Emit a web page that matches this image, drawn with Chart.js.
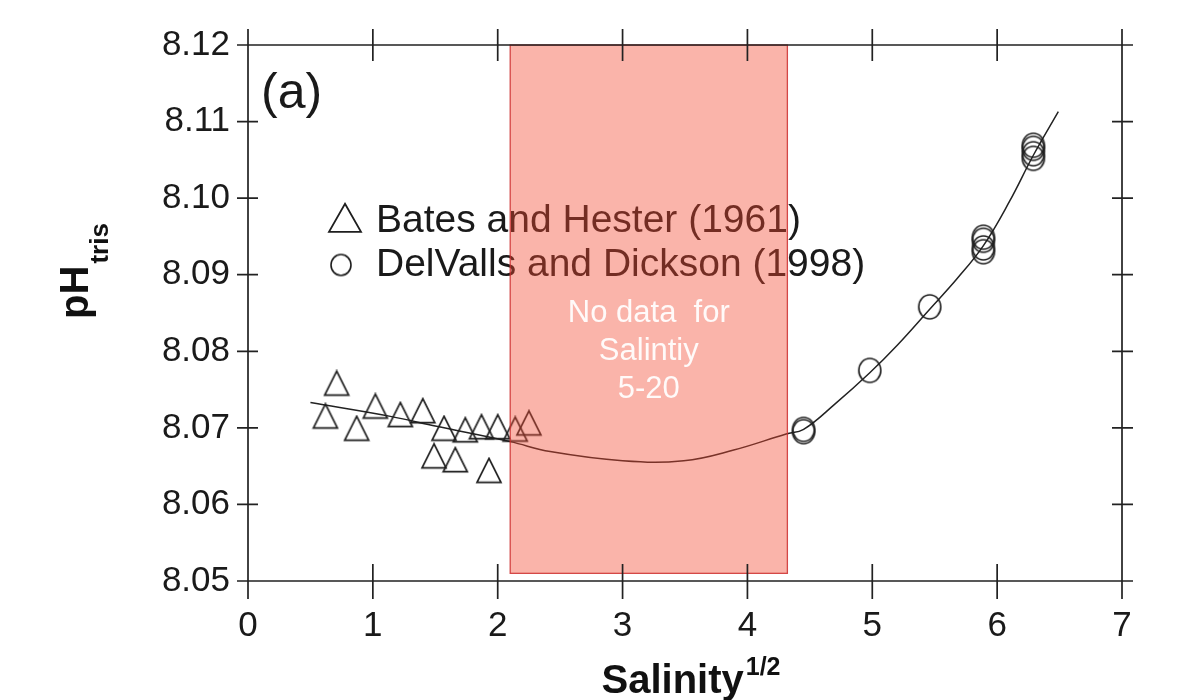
<!DOCTYPE html>
<html>
<head>
<meta charset="utf-8">
<title>pH tris vs salinity</title>
<script src="https://cdn.jsdelivr.net/npm/chart.js@4.4.1/dist/chart.umd.min.js"></script>
<style>
  html, body { margin: 0; padding: 0; background: #fff; }
  #wrap { width: 1203px; height: 700px; position: relative; }
</style>
</head>
<body>
<div id="wrap"><canvas id="chartCanvas" width="1203" height="700"></canvas></div>
<script>
// Bates and Hester (1961)
const batesX = [0.62, 0.71, 0.87, 1.02, 1.22, 1.40, 1.49, 1.57, 1.66, 1.74, 1.87, 1.93, 2.00, 2.14, 2.25];
const batesY = [8.0715, 8.0758, 8.0699, 8.0728, 8.0717, 8.0722, 8.0663, 8.0699, 8.0658, 8.0697, 8.0701, 8.0644, 8.0701, 8.0698, 8.0706];

// DelValls and Dickson (1998)
const delvX = [4.45, 4.45, 4.98, 5.46, 5.89, 5.89, 5.89, 5.89, 6.29, 6.29, 6.29, 6.29];
const delvY = [8.0698, 8.0695, 8.0775, 8.0858, 8.0949, 8.0945, 8.0935, 8.0930, 8.1069, 8.1065, 8.1058, 8.1052];

// fitted curve
const fitX = [0.50, 1.14, 1.51, 2.10, 2.42, 3.00, 3.49, 3.89, 4.31, 4.45, 4.70, 4.98, 5.20, 5.46, 5.68, 5.89, 6.10, 6.29, 6.49];
const fitY = [8.0733, 8.0715, 8.0702, 8.0682, 8.0669, 8.0657, 8.0657, 8.0671, 8.0692, 8.0698, 8.0731, 8.0772, 8.0808, 8.0855, 8.0895, 8.0938, 8.0996, 8.1056, 8.1113];

// shaded "no data" band
const gapX = [2.10, 4.32];
const gapY = [8.051, 8.12];
const gapText = ['No data  for', 'Salintiy', '5-20'];

const legendLabels = ['Bates and Hester (1961)', 'DelValls and Dickson (1998)'];

const FONT = '"Liberation Sans", Arial, Helvetica, sans-serif';
const INK = '#1e1e1e';

function makeTriangle(w, h, lw) {
  const c = document.createElement('canvas');
  c.width = Math.ceil(w + lw * 2);
  c.height = Math.ceil(h + lw * 2);
  const ctx = c.getContext('2d');
  ctx.strokeStyle = INK;
  ctx.lineWidth = lw;
  ctx.beginPath();
  ctx.moveTo(c.width / 2, lw);
  ctx.lineTo(c.width / 2 + w / 2, lw + h);
  ctx.lineTo(c.width / 2 - w / 2, lw + h);
  ctx.closePath();
  ctx.stroke();
  return c;
}

function makeRing(w, h, lw) {
  const c = document.createElement('canvas');
  c.width = Math.ceil(w + lw * 2);
  c.height = Math.ceil(h + lw * 2);
  const ctx = c.getContext('2d');
  ctx.strokeStyle = INK;
  ctx.lineWidth = lw;
  ctx.beginPath();
  ctx.ellipse(c.width / 2, c.height / 2, w / 2, h / 2, 0, 0, Math.PI * 2);
  ctx.stroke();
  return c;
}

const triMark = makeTriangle(24, 24, 1.7);
const ringMark = makeRing(22, 24, 1.6);
const triLegend = makeTriangle(32, 28, 1.8);
const ringLegend = makeRing(20, 21, 1.6);

const toPts = (xs, ys) => xs.map((x, i) => ({ x: x, y: ys[i] }));

// frame with crossing tick marks on all four sides
const frameTicks = {
  id: 'frameTicks',
  afterDraw(chart) {
    const ctx = chart.ctx;
    const { left, right, top, bottom } = chart.chartArea;
    const xs = chart.scales.x, ys = chart.scales.y;
    ctx.save();
    ctx.strokeStyle = '#222';
    ctx.lineWidth = 1.7;
    ctx.beginPath();
    ctx.rect(left, top, right - left, bottom - top);
    xs.ticks.forEach(t => {
      const px = xs.getPixelForValue(t.value);
      ctx.moveTo(px, bottom - 17); ctx.lineTo(px, bottom + 18);
      ctx.moveTo(px, top - 16); ctx.lineTo(px, top + 16);
    });
    ys.ticks.forEach(t => {
      const py = ys.getPixelForValue(t.value);
      ctx.moveTo(left - 11, py); ctx.lineTo(left + 10, py);
      ctx.moveTo(right - 10, py); ctx.lineTo(right + 11, py);
    });
    ctx.stroke();

    // axis titles
    ctx.fillStyle = '#111';
    ctx.textBaseline = 'alphabetic';
    ctx.font = 'bold 40px ' + FONT;
    const mainW = ctx.measureText('Salinity').width;
    ctx.font = 'bold 25px ' + FONT;
    const supW = ctx.measureText('1/2').width;
    const sx = 691 - (mainW + supW + 2) / 2;
    ctx.font = 'bold 40px ' + FONT;
    ctx.textAlign = 'left';
    ctx.fillText('Salinity', sx, 693);
    ctx.font = 'bold 25px ' + FONT;
    ctx.fillText('1/2', sx + mainW + 2, 675);

    ctx.translate(88, 271);
    ctx.rotate(-Math.PI / 2);
    ctx.font = 'bold 40px ' + FONT;
    const pW = ctx.measureText('pH').width;
    ctx.font = 'bold 26px ' + FONT;
    const tW = ctx.measureText('tris').width;
    const st = -(pW + tW + 2) / 2;
    ctx.font = 'bold 40px ' + FONT;
    ctx.fillText('pH', st, 0);
    ctx.font = 'bold 26px ' + FONT;
    ctx.fillText('tris', st + pW + 2, 20);
    ctx.restore();
  }
};

// legend, panel label and the shaded band on top of the data
const overlay = {
  id: 'overlay',
  afterDatasetsDraw(chart) {
    const ctx = chart.ctx;
    const xs = chart.scales.x, ys = chart.scales.y;
    ctx.save();
    ctx.fillStyle = '#1a1a1a';
    ctx.font = '50px ' + FONT;
    ctx.textAlign = 'left';
    ctx.textBaseline = 'alphabetic';
    ctx.fillText('(a)', 261, 108);

    ctx.drawImage(triLegend, 345 - triLegend.width / 2, 218 - triLegend.height / 2);
    ctx.drawImage(ringLegend, 341 - ringLegend.width / 2, 265 - ringLegend.height / 2);
    ctx.font = '39px ' + FONT;
    ctx.fillText(legendLabels[0], 376, 232);
    ctx.fillText(legendLabels[1], 376, 276);

    const x0 = xs.getPixelForValue(gapX[0]), x1 = xs.getPixelForValue(gapX[1]);
    const y0 = ys.getPixelForValue(gapY[1]), y1 = ys.getPixelForValue(gapY[0]);
    ctx.fillStyle = 'rgba(244, 73, 49, 0.41)';
    ctx.fillRect(x0, y0, x1 - x0, y1 - y0);
    ctx.strokeStyle = 'rgba(205, 45, 45, 0.85)';
    ctx.lineWidth = 1.3;
    ctx.strokeRect(x0, y0, x1 - x0, y1 - y0);

    ctx.fillStyle = 'rgba(255, 255, 255, 0.93)';
    ctx.font = '31px ' + FONT;
    ctx.textAlign = 'center';
    const cx = (x0 + x1) / 2;
    gapText.forEach((line, i) => ctx.fillText(line, cx, 322 + i * 38));
    ctx.restore();
  }
};

new Chart(document.getElementById('chartCanvas'), {
  type: 'scatter',
  data: {
    datasets: [
      {
        label: 'fit',
        data: toPts(fitX, fitY),
        showLine: true,
        borderColor: '#222',
        borderWidth: 1.5,
        pointRadius: 0,
        tension: 0.4,
        order: 3
      },
      {
        label: legendLabels[0],
        data: toPts(batesX, batesY),
        pointStyle: triMark,
        order: 1
      },
      {
        label: legendLabels[1],
        data: toPts(delvX, delvY),
        pointStyle: ringMark,
        order: 2
      }
    ]
  },
  options: {
    responsive: false,
    animation: false,
    layout: { padding: { left: 0, top: 45, right: 81, bottom: 0 } },
    plugins: { legend: { display: false }, tooltip: { enabled: false } },
    scales: {
      x: {
        type: 'linear',
        min: 0,
        max: 7,
        afterFit: s => { s.height = 119; },
        grid: { display: false, drawTicks: false },
        border: { display: false },
        ticks: {
          stepSize: 1,
          padding: 24,
          color: '#1a1a1a',
          font: { family: FONT, size: 35 }
        }
      },
      y: {
        min: 8.05,
        max: 8.12,
        afterFit: s => { s.width = 248; },
        grid: { display: false, drawTicks: false },
        border: { display: false },
        ticks: {
          stepSize: 0.01,
          padding: 18,
          color: '#1a1a1a',
          font: { family: FONT, size: 35 },
          callback: v => v.toFixed(2)
        }
      }
    }
  },
  plugins: [overlay, frameTicks]
});
</script>
</body>
</html>
